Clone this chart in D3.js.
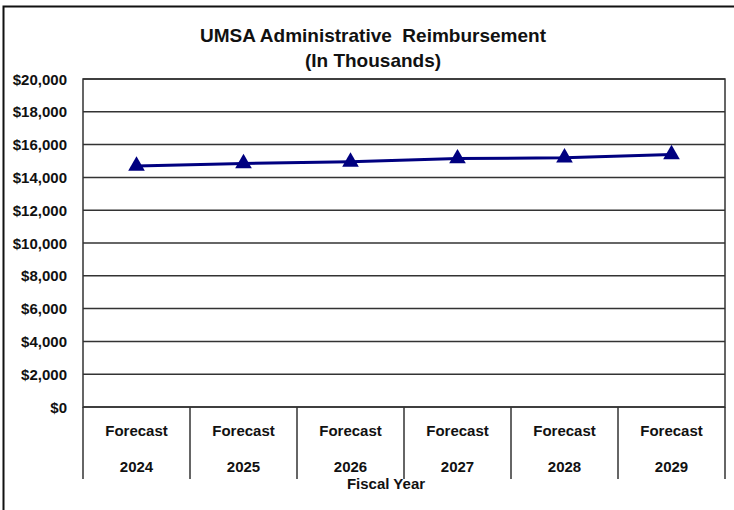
<!doctype html>
<html>
<head>
    <meta charset="utf-8">
    <title>UMSA Administrative Reimbursement</title>
    <script src="https://cdn.jsdelivr.net/npm/d3@7"></script>
    <style>
        body { margin: 0; background: #fff; }
        svg text { font-family: "Liberation Sans", Arial, sans-serif; font-weight: bold; fill: #111; }
    </style>
</head>
<body>
<svg id="chart" width="734" height="510"></svg>
<script>
// data (thousands of dollars)
var years = ['2024', '2025', '2026', '2027', '2028', '2029'];
var catTop = 'Forecast';
var values = [14700, 14850, 14950, 15150, 15200, 15400];
var yTicks = [0, 2000, 4000, 6000, 8000, 10000, 12000, 14000, 16000, 18000, 20000];

var svg = d3.select('#chart');
var plotL = 83, plotR = 725, plotT = 79, plotB = 407;

// outer frame
svg.append('rect')
    .attr('x', 3.5).attr('y', 6.5)
    .attr('width', 740).attr('height', 540)
    .attr('fill', 'none').attr('stroke', '#111').attr('stroke-width', 2);

var x = d3.scaleBand().domain(years).range([plotL, plotR]);
var y = d3.scaleLinear().domain([0, 20000]).range([plotB, plotT]);

// gridlines
svg.append('g').selectAll('line')
    .data(yTicks)
    .join('line')
    .attr('x1', plotL).attr('x2', plotR)
    .attr('y1', d => y(d)).attr('y2', d => y(d))
    .attr('stroke', '#333').attr('stroke-width', 1.5);

// plot box
svg.append('rect')
    .attr('x', plotL).attr('y', plotT)
    .attr('width', plotR - plotL).attr('height', plotB - plotT)
    .attr('fill', 'none').attr('stroke', '#333').attr('stroke-width', 1.5);

// y labels
svg.append('g').selectAll('text')
    .data(yTicks)
    .join('text')
    .attr('x', 67).attr('y', d => y(d) + 5.5)
    .attr('text-anchor', 'end')
    .style('font-size', '15px')
    .text(d => '$' + d3.format(',')(d));

// category separators
var edges = years.map(d => x(d)).concat([plotR]);
svg.append('g').selectAll('line')
    .data(edges)
    .join('line')
    .attr('x1', d => d).attr('x2', d => d)
    .attr('y1', plotB).attr('y2', 479)
    .attr('stroke', '#333').attr('stroke-width', 1.5);

var cats = svg.append('g').selectAll('g')
    .data(years)
    .join('g')
    .attr('transform', d => 'translate(' + (x(d) + x.bandwidth() / 2) + ',0)');
cats.append('text')
    .attr('y', 436).attr('text-anchor', 'middle')
    .style('font-size', '15px')
    .text(catTop);
cats.append('text')
    .attr('y', 472).attr('text-anchor', 'middle')
    .style('font-size', '15px')
    .text(d => d);

// axis title
svg.append('text')
    .attr('x', 386).attr('y', 489)
    .attr('text-anchor', 'middle')
    .style('font-size', '15px')
    .text('Fiscal Year');

// title
svg.append('text')
    .attr('x', 373).attr('y', 42)
    .attr('text-anchor', 'middle')
    .style('font-size', '19px')
    .style('white-space', 'pre')
    .text('UMSA Administrative  Reimbursement');
svg.append('text')
    .attr('x', 373).attr('y', 67)
    .attr('text-anchor', 'middle')
    .style('font-size', '19px')
    .text('(In Thousands)');

// series
var line = d3.line()
    .x((d, i) => x(years[i]) + x.bandwidth() / 2)
    .y(d => y(d));
svg.append('path')
    .datum(values)
    .attr('d', line)
    .attr('fill', 'none')
    .attr('stroke', '#000080')
    .attr('stroke-width', 3);

var tri = d3.symbol().type(d3.symbolTriangle).size(120);
svg.append('g').selectAll('path')
    .data(values)
    .join('path')
    .attr('transform', (d, i) => 'translate(' + (x(years[i]) + x.bandwidth() / 2) + ',' + y(d) + ')')
    .attr('d', tri)
    .attr('fill', '#000080');
</script>
</body>
</html>
